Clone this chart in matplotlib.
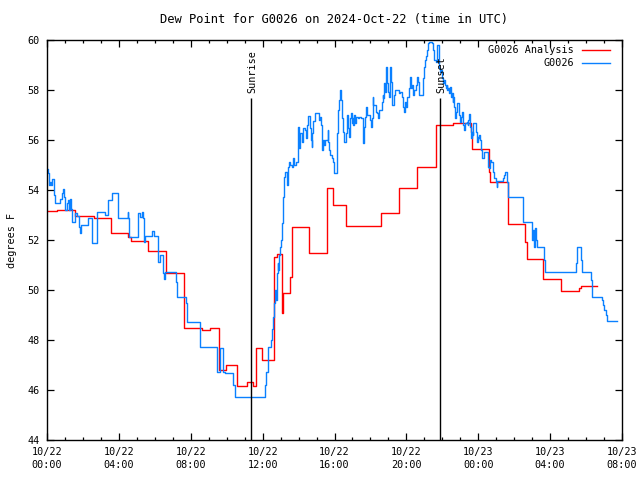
import matplotlib
matplotlib.use('Agg')
import matplotlib.pyplot as plt
from matplotlib.lines import Line2D

# ---------------- data ----------------
title = "Dew Point for G0026 on 2024-Oct-22 (time in UTC)"
ylabel = "degrees F"
series_names = ["G0026 Analysis", "G0026"]
series_colors = ["#ff0000", "#0a80ff"]

tick_hours = [0, 4, 8, 12, 16, 20, 24, 28, 32]
tick_labels = ["10/22\n00:00", "10/22\n04:00", "10/22\n08:00", "10/22\n12:00",
               "10/22\n16:00", "10/22\n20:00", "10/23\n00:00", "10/23\n04:00",
               "10/23\n08:00"]
y_ticks = [44, 46, 48, 50, 52, 54, 56, 58, 60]

sun_names = ["Sunrise", "Sunset"]
sun_hours = [11.37, 21.87]

# analysis (hourly steps): hour of change, new value
red_hours = [0.00, 0.54, 1.56, 2.63, 3.56, 4.53, 4.68, 5.64, 6.62, 7.64, 8.60, 9.05,
             9.59, 9.96, 10.55, 11.11, 11.48, 11.61, 11.95, 11.98, 12.65, 12.80,
             13.07, 13.12, 13.55, 13.62, 14.60, 15.60, 15.93, 16.64, 17.60, 18.57,
             19.57, 20.57, 21.63, 22.60, 23.58, 23.63, 24.60, 24.65, 25.63, 25.67,
             26.60, 26.69, 27.62, 28.60, 29.60, 29.70, 30.60]
red_vals = [53.16, 53.20, 52.96, 52.90, 52.29, 52.13, 51.96, 51.56, 50.67, 48.47, 48.40, 48.47,
            46.80, 46.99, 46.16, 46.31, 46.16, 47.67, 47.40, 47.20, 51.33, 51.44,
            49.07, 49.87, 50.53, 52.51, 51.47, 54.07, 53.40, 52.55, 52.58, 53.07,
            54.07, 54.92, 56.60, 56.67, 56.33, 55.64, 54.73, 54.33, 53.60, 52.64,
            51.93, 51.23, 50.43, 49.97, 50.07, 50.16, 50.16]

# observations (step data): hour of change, new value
blue_hours = [0.00, 0.04, 0.11, 0.17, 0.22, 0.26, 0.39, 0.45, 0.72, 0.82, 0.91, 0.96,
              1.00, 1.09, 1.19, 1.22, 1.28, 1.34, 1.37, 1.56, 1.65, 1.78, 1.84, 1.89,
              2.26, 2.49, 2.52, 2.80, 3.23, 3.41, 3.60, 3.97, 4.49, 4.53, 4.56, 5.08,
              5.18, 5.27, 5.36, 5.42, 5.45, 5.85, 5.95, 6.16, 6.20, 6.29, 6.43, 6.47,
              6.51, 6.57, 7.16, 7.21, 7.72, 7.77, 8.51, 9.48, 9.63, 9.81, 9.93, 10.37,
              10.46, 12.13, 12.19, 12.28, 12.32, 12.45, 12.50, 12.56, 12.60, 12.65,
              12.69, 12.72, 12.78, 12.84, 12.87, 12.91, 12.97, 13.02, 13.06, 13.15,
              13.21, 13.24, 13.37, 13.39, 13.43, 13.48, 13.52, 13.61, 13.71, 13.76,
              13.86, 13.95, 13.98, 14.02, 14.08, 14.17, 14.23, 14.36, 14.39, 14.45,
              14.51, 14.64, 14.69, 14.73, 14.77, 14.82, 14.91, 15.14, 15.19, 15.25,
              15.28, 15.32, 15.38, 15.43, 15.47, 15.62, 15.66, 15.69, 15.75, 15.88,
              15.93, 15.97, 16.12, 16.16, 16.21, 16.27, 16.30, 16.36, 16.40, 16.45,
              16.53, 16.64, 16.68, 16.77, 16.83, 16.86, 16.92, 16.95, 17.01, 17.05,
              17.10, 17.14, 17.19, 17.29, 17.38, 17.45, 17.57, 17.60, 17.64, 17.70,
              17.75, 17.79, 17.92, 17.97, 18.03, 18.07, 18.12, 18.16, 18.31, 18.38,
              18.44, 18.49, 18.62, 18.68, 18.71, 18.75, 18.81, 18.86, 18.90, 18.94,
              18.99, 19.05, 19.09, 19.13, 19.18, 19.22, 19.33, 19.37, 19.61, 19.64,
              19.74, 19.79, 19.83, 19.87, 19.92, 19.98, 20.01, 20.14, 20.20, 20.25,
              20.29, 20.35, 20.42, 20.53, 20.61, 20.66, 20.70, 20.89, 20.93, 20.98,
              21.03, 21.09, 21.16, 21.22, 21.28, 21.41, 21.46, 21.51, 21.55, 21.63,
              21.68, 21.72, 21.81, 21.87, 21.91, 21.96, 22.00, 22.05, 22.09, 22.15,
              22.20, 22.24, 22.28, 22.33, 22.39, 22.43, 22.46, 22.52, 22.57, 22.61,
              22.65, 22.70, 22.76, 22.80, 22.95, 22.98, 23.02, 23.08, 23.13, 23.17,
              23.22, 23.26, 23.35, 23.41, 23.45, 23.50, 23.54, 23.58, 23.63, 23.69,
              23.72, 23.82, 23.87, 23.91, 23.96, 24.00, 24.06, 24.09, 24.13, 24.19,
              24.33, 24.52, 24.56, 24.61, 24.65, 24.71, 24.80, 24.84, 24.87, 24.98,
              25.02, 25.06, 25.39, 25.45, 25.49, 25.62, 25.64, 26.48, 27.01, 27.06,
              27.12, 27.16, 27.19, 27.25, 27.66, 27.71, 29.42, 29.47, 29.71, 29.75,
              30.27, 30.35, 30.90, 30.96, 31.01, 31.09, 31.14, 31.70]
blue_vals = [54.83, 54.67, 54.20, 54.33, 54.20, 54.43, 53.80, 53.49, 53.63, 53.87, 54.03, 53.73,
             53.20, 53.47, 53.60, 53.20, 53.63, 53.23, 52.73, 53.07, 52.96, 52.53, 52.27, 52.60,
             52.87, 52.27, 51.87, 53.13, 53.00, 53.60, 53.87, 52.87, 53.13, 52.87, 52.13, 53.07,
             52.93, 53.13, 52.87, 51.93, 52.16, 52.36, 52.16, 51.47, 51.13, 51.40, 51.20, 50.69,
             50.43, 50.73, 50.33, 49.73, 49.47, 48.73, 47.73, 46.73, 47.70, 46.73, 46.69, 46.20,
             45.73, 46.20, 46.73, 47.20, 47.71, 48.00, 48.43, 48.80, 48.93, 49.47,
             50.00, 49.60, 50.67, 51.07, 50.80, 51.40, 51.73, 52.00, 52.67, 53.73,
             54.53, 54.73, 54.20, 54.53, 54.93, 55.13, 55.00, 54.93, 55.27, 55.00,
             55.13, 55.87, 56.53, 55.67, 56.27, 55.93, 56.47, 56.40, 56.07, 56.60,
             56.96, 56.47, 56.00, 55.73, 56.27, 56.77, 57.07, 56.80, 56.93, 56.60,
             56.40, 55.60, 56.00, 55.80, 56.00, 56.40, 55.93, 55.60, 55.40, 55.27,
             55.13, 54.67, 55.07, 56.27, 57.20, 57.60, 58.00, 57.60, 56.87, 56.33,
             55.91, 56.27, 57.00, 56.47, 56.13, 56.87, 57.07, 56.67, 56.87, 56.60,
             57.00, 56.67, 56.93, 56.87, 56.93, 56.87, 56.87, 55.87, 56.53, 56.93,
             57.33, 57.00, 57.00, 56.80, 56.53, 56.87, 57.73, 57.40, 57.13, 57.07,
             56.87, 57.20, 57.53, 57.80, 57.67, 58.27, 57.93, 58.91, 58.73, 58.27,
             57.93, 57.73, 58.93, 58.33, 58.00, 57.40, 57.80, 58.00, 57.87, 57.93,
             57.73, 57.53, 57.33, 57.13, 57.53, 57.33, 57.73, 58.07, 58.53, 58.07,
             58.20, 57.80, 58.00, 58.20, 58.53, 58.33, 57.80, 57.80, 58.47, 58.93,
             59.20, 59.37, 59.60, 59.87, 59.93, 59.87, 59.60, 59.37, 59.20, 59.13,
             59.33, 59.80, 58.87, 58.73, 58.80, 58.60, 58.47, 58.27, 58.40, 58.20,
             58.07, 58.20, 58.00, 58.07, 57.87, 58.13, 57.73, 57.87, 57.53, 57.73,
             57.33, 56.87, 57.13, 57.47, 57.00, 56.73, 56.93, 57.13, 56.80, 56.60,
             56.40, 56.67, 56.73, 56.60, 56.80, 57.03, 56.53, 56.07, 56.33, 56.20,
             56.67, 56.67, 56.33, 55.93, 56.13, 56.07, 56.20, 56.00, 55.60, 55.27,
             55.53, 55.40, 54.93, 54.87, 55.20, 55.13, 54.93, 54.73, 54.47, 54.33,
             54.13, 54.36, 54.47, 54.60, 54.71, 54.33, 53.71, 52.73, 52.00, 52.40,
             51.73, 52.47, 52.00, 51.73, 51.20, 50.73, 51.07, 51.71, 51.20, 50.73,
             50.40, 49.71, 49.60, 49.40, 49.20, 49.00, 48.76, 48.76]

# ---------------- plot ----------------
plt.rcParams['font.family'] = ['DejaVu Sans Mono']
plt.rcParams['font.size'] = 7.3

fig = plt.figure(figsize=(6.4, 4.8), dpi=100)
ax = fig.add_axes([47 / 640, 40 / 480, 575 / 640, 400 / 480])

ax.step(red_hours, red_vals, where='post', color=series_colors[0], lw=1.0)
ax.step(blue_hours, blue_vals, where='post', color=series_colors[1], lw=1.0)

sun_top = 57.68
for name, h in zip(sun_names, sun_hours):
    ax.vlines(h, 44, sun_top, color='black', lw=1.0)
    ax.text(h + 0.05, sun_top + 0.2, name, rotation=90, ha='center', va='bottom')

ax.set_xlim(tick_hours[0], tick_hours[-1])
ax.set_ylim(y_ticks[0], y_ticks[-1])
ax.set_xticks(tick_hours)
ax.set_xticklabels(tick_labels, linespacing=1.4)
ax.set_xticks(range(tick_hours[0], tick_hours[-1] + 1), minor=True)
ax.set_yticks(y_ticks)
ax.set_yticklabels([str(v) for v in y_ticks])
ax.tick_params(which='major', direction='in', length=5, width=0.9,
               top=True, right=True, pad=5)
ax.tick_params(which='minor', direction='in', length=2.5, width=0.9,
               top=True, right=True)
for s in ax.spines.values():
    s.set_linewidth(1.0)

ax.set_title(title, pad=12)
ax.set_ylabel(ylabel, labelpad=8)

# key (top right, text right-aligned, sample to the right)
rows = [0.975, 0.9425]
for name, col, yy in zip(series_names, series_colors, rows):
    ax.text(0.9165, yy, name, transform=ax.transAxes, ha='right', va='center')
    ax.add_line(Line2D([0.931, 0.979], [yy, yy], transform=ax.transAxes,
                       color=col, lw=1.0))

fig.savefig('out.png', dpi=100)
